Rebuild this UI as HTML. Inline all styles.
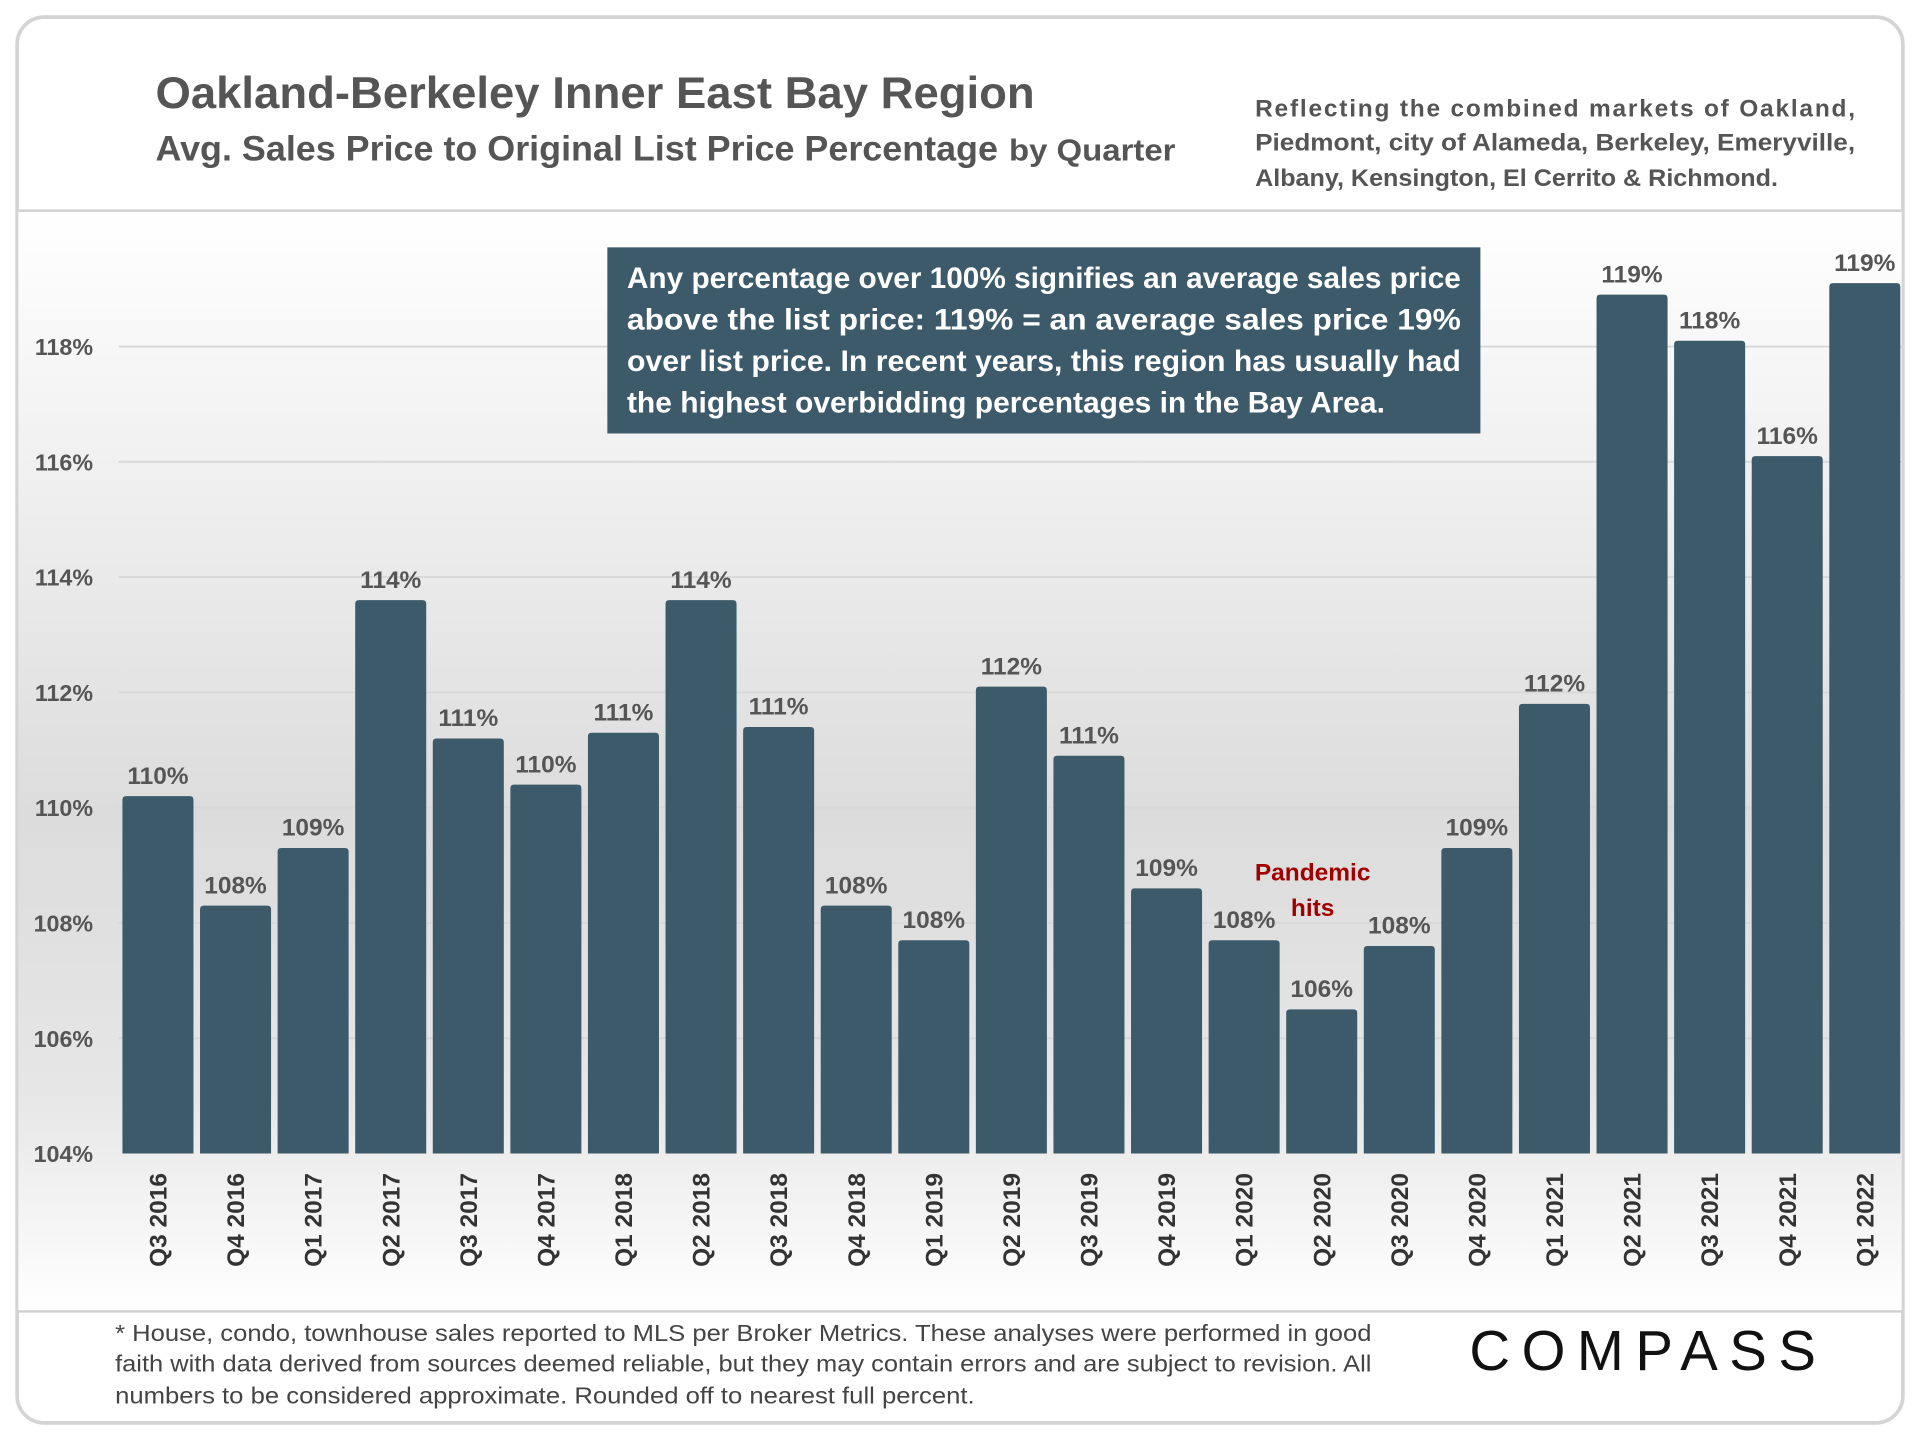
<!DOCTYPE html>
<html><head><meta charset="utf-8"><style>
html,body{margin:0;padding:0;background:#fff;}
svg{display:block;font-family:"Liberation Sans",sans-serif;}
</style></head><body>
<svg id="chart" width="1920" height="1440" viewBox="0 0 1568 1176" xmlns="http://www.w3.org/2000/svg">
<defs>
<linearGradient id="bg" x1="0" y1="0" x2="0" y2="1">
<stop offset="0" stop-color="#ffffff"/><stop offset="0.55" stop-color="#dcdcdc"/><stop offset="0.8" stop-color="#e6e6e6"/><stop offset="1" stop-color="#ffffff"/>
</linearGradient>
</defs>
<rect x="14" y="14" width="1540" height="1148" rx="22" fill="#fff" stroke="#d4d4d4" stroke-width="3"/>
<rect x="15" y="173" width="1538" height="897" fill="url(#bg)"/>
<line x1="15" y1="172" x2="1553" y2="172" stroke="#d0d0d0" stroke-width="2"/>
<line x1="15" y1="1071" x2="1553" y2="1071" stroke="#d0d0d0" stroke-width="2"/>
<text x="127" y="88" font-size="36" font-weight="bold" fill="#555" textLength="718" lengthAdjust="spacingAndGlyphs">Oakland-Berkeley Inner East Bay Region</text>
<text x="127" y="131" font-size="29" font-weight="bold" fill="#555" textLength="688" lengthAdjust="spacingAndGlyphs">Avg. Sales Price to Original List Price Percentage</text>
<text x="824" y="131" font-size="25" font-weight="bold" fill="#555" textLength="136" lengthAdjust="spacingAndGlyphs">by Quarter</text>
<g font-size="20" font-weight="bold" fill="#555">
<text x="1025" y="95" textLength="490" lengthAdjust="spacing">Reflecting the combined markets of Oakland,</text>
<text x="1025" y="123" textLength="490" lengthAdjust="spacingAndGlyphs">Piedmont, city of Alameda, Berkeley, Emeryville,</text>
<text x="1025" y="152" textLength="427" lengthAdjust="spacingAndGlyphs">Albany, Kensington, El Cerrito &amp; Richmond.</text>
</g>
<g id="grid"></g><g id="bars"></g><g id="xlabels"></g>
<g>
<rect x="496" y="202" width="713" height="152" fill="#3d5a6a"/>
<g font-size="24" font-weight="bold" fill="#fff">
<text x="512" y="235" textLength="681" lengthAdjust="spacingAndGlyphs">Any percentage over 100% signifies an average sales price</text>
<text x="512" y="269" textLength="681" lengthAdjust="spacingAndGlyphs">above the list price: 119% = an average sales price 19%</text>
<text x="512" y="303" textLength="681" lengthAdjust="spacingAndGlyphs">over list price. In recent years, this region has usually had</text>
<text x="512" y="337" textLength="619" lengthAdjust="spacingAndGlyphs">the highest overbidding percentages in the Bay Area.</text>
</g></g>
<g font-size="20" font-weight="bold" fill="#a00000" text-anchor="middle">
<text x="1072" y="719">Pandemic</text><text x="1072" y="748">hits</text>
</g>
<g font-size="19" fill="#444">
<text x="94" y="1095" textLength="1026" lengthAdjust="spacingAndGlyphs">* House, condo, townhouse sales reported to MLS per Broker Metrics. These analyses were performed in good</text>
<text x="94" y="1120" textLength="1026" lengthAdjust="spacingAndGlyphs">faith with data derived from sources deemed reliable, but they may contain errors and are subject to revision. All</text>
<text x="94" y="1146" textLength="702" lengthAdjust="spacingAndGlyphs">numbers to  be considered  approximate. Rounded off to nearest full percent.</text>
</g>
<text x="1200" y="1119" font-size="46" fill="#111" textLength="283" lengthAdjust="spacing">COMPASS</text>
<script>
var categories=["Q3 2016","Q4 2016","Q1 2017","Q2 2017","Q3 2017","Q4 2017","Q1 2018","Q2 2018","Q3 2018","Q4 2018","Q1 2019","Q2 2019","Q3 2019","Q4 2019","Q1 2020","Q2 2020","Q3 2020","Q4 2020","Q1 2021","Q2 2021","Q3 2021","Q4 2021","Q1 2022"];
var values=[110.2,108.3,109.3,113.6,111.2,110.4,111.3,113.6,111.4,108.3,107.7,112.1,110.9,108.6,107.7,106.5,107.6,109.3,111.8,118.9,118.1,116.1,119.1];
var valueLabels=["110%","108%","109%","114%","111%","110%","111%","114%","111%","108%","108%","112%","111%","109%","108%","106%","108%","109%","112%","119%","118%","116%","119%"];
var yTicks=[104,106,108,110,112,114,116,118];
var yTickLabels=["104%","106%","108%","110%","112%","114%","116%","118%"];
var NS="http://www.w3.org/2000/svg";
function yScale(v){return 942-(v-104)*47.07;}
function xCenter(i){return 129+i*63.36;}
var BW=58;
var grid=document.getElementById('grid'),bars=document.getElementById('bars'),xl=document.getElementById('xlabels');
yTicks.forEach(function(t,i){
 var y=yScale(t);
 if(i>0){var l=document.createElementNS(NS,'line');
 l.setAttribute('x1',97);l.setAttribute('x2',1555);l.setAttribute('y1',y);l.setAttribute('y2',y);
 l.setAttribute('stroke','#d8d8d8');l.setAttribute('stroke-width','1.5');
 
 
 grid.appendChild(l);}
 var tx=document.createElementNS(NS,'text');
 tx.setAttribute('x',76);tx.setAttribute('y',y+7);tx.setAttribute('text-anchor','end');
 tx.setAttribute('font-size','19');tx.setAttribute('font-weight','bold');tx.setAttribute('fill','#555');
 tx.textContent=yTickLabels[i];
 
 
 grid.appendChild(tx);
});
categories.forEach(function(c,i){
 var cx=xCenter(i),y=yScale(values[i]);
 var r=document.createElementNS(NS,'path');
 var x0=cx-BW/2,x1=cx+BW/2,b=yScale(104),rr=3;
 r.setAttribute('d','M'+x0+','+b+'V'+(y+rr)+'Q'+x0+','+y+' '+(x0+rr)+','+y+'H'+(x1-rr)+'Q'+x1+','+y+' '+x1+','+(y+rr)+'V'+b+'Z');
 r.setAttribute('fill','#3d5a6a');
 
 
 bars.appendChild(r);
 var vl=document.createElementNS(NS,'text');
 vl.setAttribute('x',cx);vl.setAttribute('y',y-10);vl.setAttribute('text-anchor','middle');
 vl.setAttribute('font-size','20');vl.setAttribute('font-weight','bold');vl.setAttribute('fill','#555');
 vl.textContent=valueLabels[i];
 
 
 bars.appendChild(vl);
 var xt=document.createElementNS(NS,'text');
 xt.setAttribute('transform','translate('+(cx+7)+',958) rotate(-90)');
 xt.setAttribute('text-anchor','end');
 xt.setAttribute('font-size','20');xt.setAttribute('font-weight','bold');xt.setAttribute('fill','#333');
 xt.textContent=c;
 
 
 xl.appendChild(xt);
});
</script>
</svg>
</body></html>
